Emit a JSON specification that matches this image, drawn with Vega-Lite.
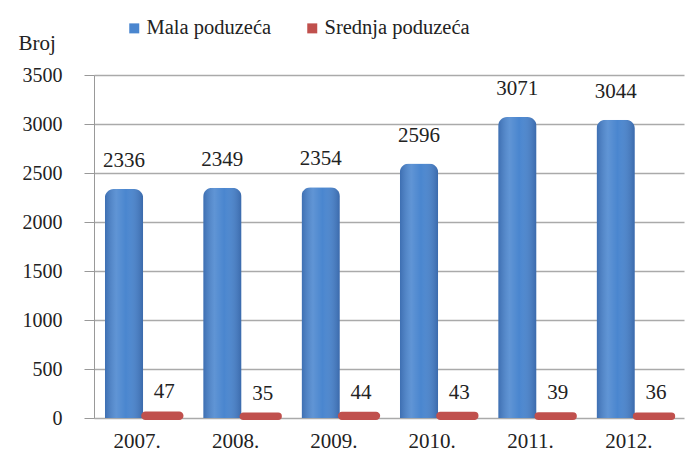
{
  "$schema": "https://vega.github.io/schema/vega-lite/v6.json",
  "autosize": {"type": "none"},
  "width": 590,
  "height": 343,
  "padding": {"left": 94, "top": 75, "right": 4, "bottom": 50},
  "background": "white",
  "config": {
    "font": "Liberation Serif, Times New Roman, DejaVu Serif, serif",
    "view": {"stroke": null}
  },
  "data": {
    "values": [
      {"godina": "2007.", "serija": "Mala poduzeća", "broj": 2336},
      {"godina": "2007.", "serija": "Srednja poduzeća", "broj": 47},
      {"godina": "2008.", "serija": "Mala poduzeća", "broj": 2349},
      {"godina": "2008.", "serija": "Srednja poduzeća", "broj": 35},
      {"godina": "2009.", "serija": "Mala poduzeća", "broj": 2354},
      {"godina": "2009.", "serija": "Srednja poduzeća", "broj": 44},
      {"godina": "2010.", "serija": "Mala poduzeća", "broj": 2596},
      {"godina": "2010.", "serija": "Srednja poduzeća", "broj": 43},
      {"godina": "2011.", "serija": "Mala poduzeća", "broj": 3071},
      {"godina": "2011.", "serija": "Srednja poduzeća", "broj": 39},
      {"godina": "2012.", "serija": "Mala poduzeća", "broj": 3044},
      {"godina": "2012.", "serija": "Srednja poduzeća", "broj": 36}
    ]
  },
  "encoding": {
    "x": {
      "field": "godina", "type": "nominal", "sort": null,
      "scale": {"paddingInner": 0.22, "paddingOuter": 0.11},
      "axis": {"title": null, "labelAngle": 0, "ticks": false, "domain": false,
               "labelFont": "Liberation Serif, Times New Roman, DejaVu Serif, serif", "labelFontSize": 21, "labelColor": "#222",
               "labelPadding": 12, "labelOffset": -6}
    },
    "xOffset": {"field": "serija", "type": "nominal", "sort": ["Mala poduzeća", "Srednja poduzeća"]},
    "y": {
      "field": "broj", "type": "quantitative",
      "scale": {"domain": [0, 3500]},
      "axis": {"values": [0, 500, 1000, 1500, 2000, 2500, 3000, 3500], "format": "d",
               "title": "Broj", "titleAngle": 0, "titleAlign": "left", "titleBaseline": "alphabetic",
               "titleX": -76, "titleY": -26, "titleFont": "Liberation Serif, Times New Roman, DejaVu Serif, serif", "titleFontSize": 21,
               "titleFontWeight": "normal", "titleColor": "#222",
               "labelFont": "Liberation Serif, Times New Roman, DejaVu Serif, serif", "labelFontSize": 20, "labelColor": "#222",
               "tickSize": 10, "tickColor": "#999", "labelPadding": 22,
               "domainColor": "#999", "gridColor": "#aaa", "gridWidth": 1.5}
    },
    "color": {
      "field": "serija", "type": "nominal",
      "scale": {"domain": ["Mala poduzeća", "Srednja poduzeća"], "range": ["#4a86cf", "#c0504d"]},
      "legend": {"title": null, "orient": "none", "direction": "horizontal",
                 "legendX": 30, "legendY": -57,
                 "symbolType": "square", "symbolSize": 100, "symbolStrokeWidth": 0,
                 "labelFont": "Liberation Serif, Times New Roman, DejaVu Serif, serif", "labelFontSize": 20.5, "labelColor": "#222",
                 "labelOffset": 2, "columnPadding": 30}
    }
  },
  "layer": [
    {
      "transform": [{"filter": "datum.serija === 'Mala poduzeća'"}],
      "mark": {"type": "bar", "cornerRadiusTopLeft": 9, "cornerRadiusTopRight": 9}
    },
    {
      "transform": [{"filter": "datum.serija === 'Mala poduzeća'"}],
      "mark": {"type": "bar", "cornerRadiusTopLeft": 9, "cornerRadiusTopRight": 9,
               "fill": {"gradient": "linear", "x1": 0, "y1": 0, "x2": 1, "y2": 0,
                        "stops": [
                          {"offset": 0, "color": "rgba(0,0,40,0.18)"},
                          {"offset": 0.3, "color": "rgba(255,255,255,0.12)"},
                          {"offset": 0.55, "color": "rgba(255,255,255,0.0)"},
                          {"offset": 1, "color": "rgba(0,0,40,0.22)"}
                        ]}}
    },
    {
      "transform": [{"filter": "datum.serija === 'Srednja poduzeća'"}],
      "mark": {"type": "bar", "cornerRadius": 4, "strokeWidth": 4, "strokeJoin": "round"},
      "encoding": {
        "stroke": {"field": "serija", "type": "nominal", "legend": null,
                   "scale": {"domain": ["Mala poduzeća", "Srednja poduzeća"], "range": ["#4a86cf", "#c0504d"]}}
      }
    },
    {
      "transform": [{"filter": "datum.serija === 'Mala poduzeća'"}],
      "mark": {"type": "text", "baseline": "bottom", "dy": -18, "font": "Liberation Serif, Times New Roman, DejaVu Serif, serif", "fontSize": 21, "color": "#222"},
      "encoding": {"text": {"field": "broj", "type": "quantitative"}, "color": {"value": "#222"}}
    },
    {
      "transform": [{"filter": "datum.serija === 'Srednja poduzeća'"}],
      "mark": {"type": "text", "baseline": "bottom", "dy": -11, "dx": 2, "font": "Liberation Serif, Times New Roman, DejaVu Serif, serif", "fontSize": 21, "color": "#222"},
      "encoding": {"text": {"field": "broj", "type": "quantitative"}, "color": {"value": "#222"}}
    }
  ]
}
